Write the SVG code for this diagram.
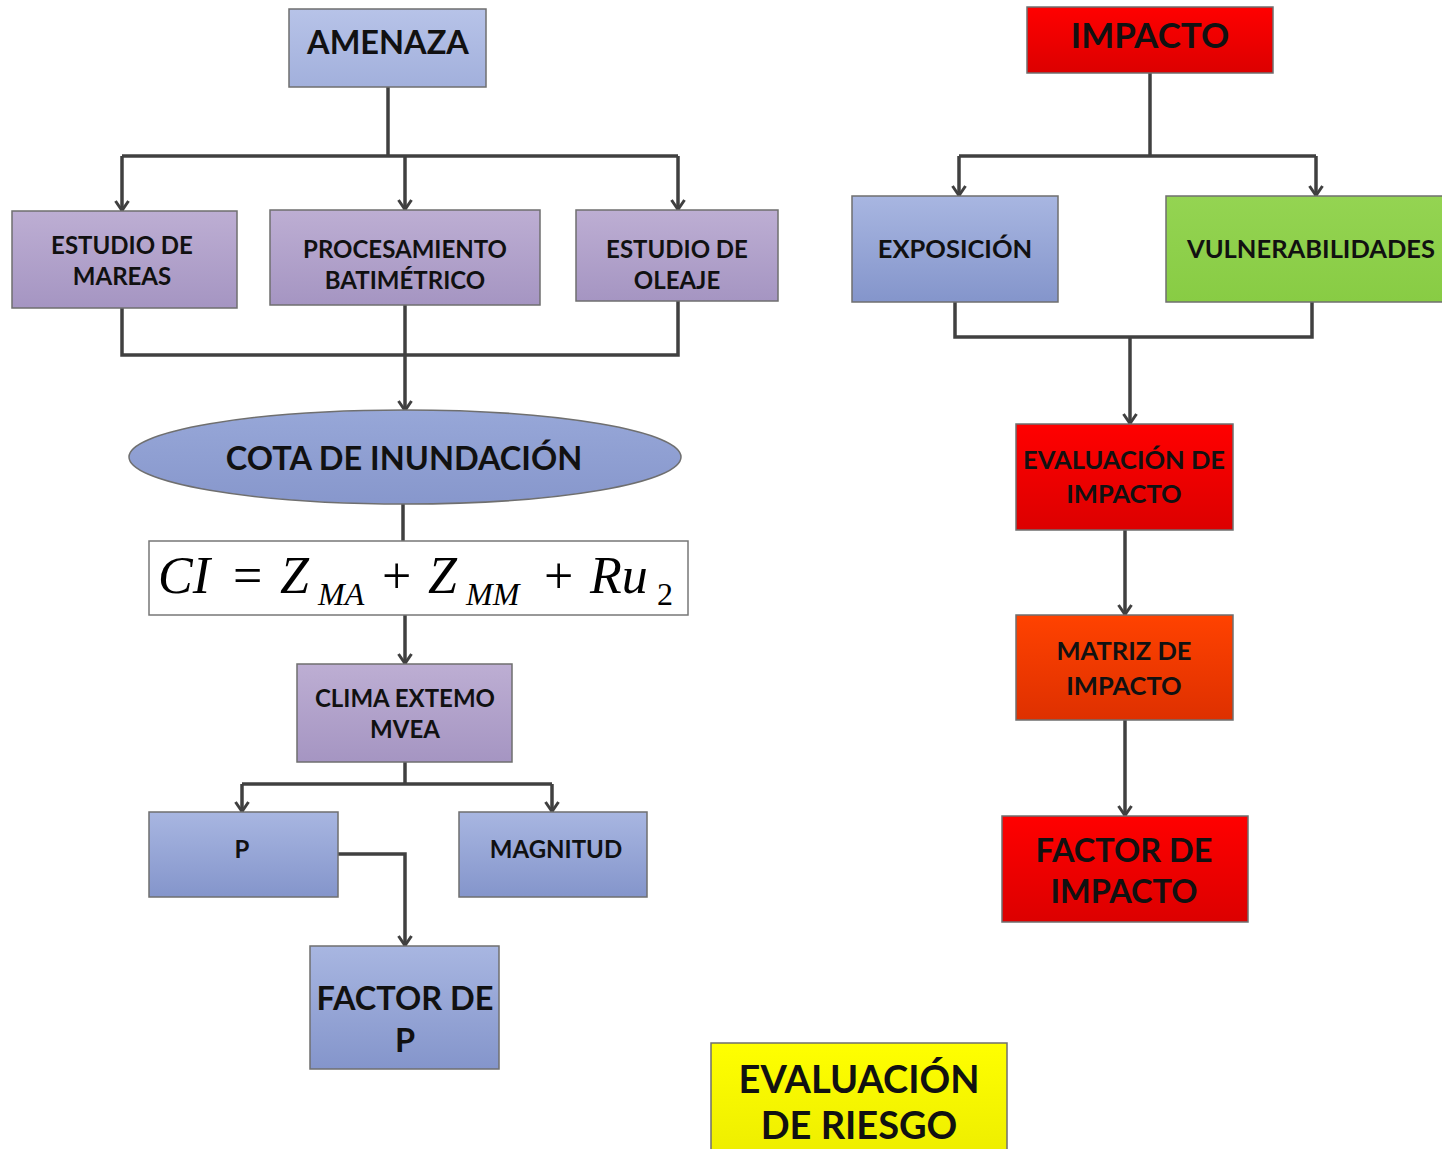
<svg xmlns="http://www.w3.org/2000/svg" width="1442" height="1149" viewBox="0 0 1442 1149">
<defs>
<linearGradient id="gBlue" x1="0" y1="0" x2="0" y2="1"><stop offset="0" stop-color="#a8b6e1"/><stop offset="1" stop-color="#8495cb"/></linearGradient>
<linearGradient id="gLight" x1="0" y1="0" x2="0" y2="1"><stop offset="0" stop-color="#b7c3e8"/><stop offset="1" stop-color="#a2b0dc"/></linearGradient>
<linearGradient id="gPurple" x1="0" y1="0" x2="0" y2="1"><stop offset="0" stop-color="#bdaed3"/><stop offset="1" stop-color="#a595c2"/></linearGradient>
<linearGradient id="gRed" x1="0" y1="0" x2="0" y2="1"><stop offset="0" stop-color="#ff0000"/><stop offset="1" stop-color="#dc0000"/></linearGradient>
<linearGradient id="gOrange" x1="0" y1="0" x2="0" y2="1"><stop offset="0" stop-color="#ff4200"/><stop offset="1" stop-color="#de3000"/></linearGradient>
<linearGradient id="gGreen" x1="0" y1="0" x2="0" y2="1"><stop offset="0" stop-color="#94d452"/><stop offset="1" stop-color="#88cc44"/></linearGradient>
<linearGradient id="gYellow" x1="0" y1="0" x2="0" y2="1"><stop offset="0" stop-color="#ffff00"/><stop offset="1" stop-color="#eeee00"/></linearGradient>
<linearGradient id="gEll" x1="0" y1="0" x2="0" y2="1"><stop offset="0" stop-color="#97a7d8"/><stop offset="1" stop-color="#8797cc"/></linearGradient>
<marker id="arr" viewBox="0 0 14 16" refX="12" refY="8" markerWidth="14" markerHeight="16" markerUnits="userSpaceOnUse" orient="auto">
<path d="M2,1.5 L11.5,8 L2,14.5" fill="none" stroke="#404040" stroke-width="3"/>
</marker>
</defs>
<style>
.box{stroke:#6f6f6f;stroke-width:1.5}
.t{font-family:Lato,"Open Sans","Liberation Sans",sans-serif;font-weight:bold;fill:#111;text-anchor:middle;dominant-baseline:central}
.s20{font-size:24px}
.s22{font-size:25.5px}
.s28{font-size:32.5px}
.s30{font-size:32.5px}
.s35{font-size:35px}
.s38{font-size:38px}
.c{fill:none;stroke:#404040;stroke-width:3.5}
.m{font-family:"Liberation Serif","Times New Roman",serif;font-style:italic;fill:#000}
.mn{font-family:"Liberation Serif","Times New Roman",serif;fill:#000}
</style>
<rect width="1442" height="1149" fill="#fff"/>

<g id="connectors">
<path class="c" d="M388,87 V156"/>
<path class="c" d="M122,156 H678"/>
<path class="c" d="M122,156 V211" marker-end="url(#arr)"/>
<path class="c" d="M405,156 V210" marker-end="url(#arr)"/>
<path class="c" d="M678,156 V210" marker-end="url(#arr)"/>
<path class="c" d="M122,308 V355 H678 V301"/>
<path class="c" d="M405,305 V411" marker-end="url(#arr)"/>
<path class="c" d="M403,504 V541"/>
<path class="c" d="M405,615 V664" marker-end="url(#arr)"/>
<path class="c" d="M405,762 V784"/>
<path class="c" d="M242,784 H552"/>
<path class="c" d="M242,784 V812" marker-end="url(#arr)"/>
<path class="c" d="M552,784 V812" marker-end="url(#arr)"/>
<path class="c" d="M338,854 H405 V946" marker-end="url(#arr)"/>
<path class="c" d="M1150,73 V156"/>
<path class="c" d="M959,156 H1316"/>
<path class="c" d="M959,156 V196" marker-end="url(#arr)"/>
<path class="c" d="M1316,156 V196" marker-end="url(#arr)"/>
<path class="c" d="M955,302 V337 H1312 V302"/>
<path class="c" d="M1130,337 V424" marker-end="url(#arr)"/>
<path class="c" d="M1125,530 V615" marker-end="url(#arr)"/>
<path class="c" d="M1125,720 V816" marker-end="url(#arr)"/>
</g>

<g id="amenaza"><rect class="box" x="289" y="9" width="197" height="78" fill="url(#gLight)"/><text class="t s28" x="388" y="41">AMENAZA</text></g>
<g id="mareas"><rect class="box" x="12" y="211" width="225" height="97" fill="url(#gPurple)"/><text class="t s20" x="122" y="244">ESTUDIO DE</text><text class="t s20" x="122" y="275">MAREAS</text></g>
<g id="batimetrico"><rect class="box" x="270" y="210" width="270" height="95" fill="url(#gPurple)"/><text class="t s20" x="405" y="248">PROCESAMIENTO</text><text class="t s20" x="405" y="279">BATIMÉTRICO</text></g>
<g id="oleaje"><rect class="box" x="576" y="210" width="202" height="91" fill="url(#gPurple)"/><text class="t s20" x="677" y="248">ESTUDIO DE</text><text class="t s20" x="677" y="279">OLEAJE</text></g>
<g id="cota"><ellipse class="box" cx="405" cy="457" rx="276" ry="47" fill="url(#gEll)"/><text class="t s28" x="404" y="457">COTA DE INUNDACIÓN</text></g>
<g id="formula"><rect x="149" y="541" width="539" height="74" fill="#fff" stroke="#777" stroke-width="1.5"/>
<text class="m" font-size="52" x="158" y="593">CI</text>
<text class="mn" font-size="52" x="233" y="593">=</text>
<text class="m" font-size="52" x="280" y="593">Z</text>
<text class="m" font-size="32" x="318" y="605">MA</text>
<text class="mn" font-size="52" x="382" y="593">+</text>
<text class="m" font-size="52" x="428" y="593">Z</text>
<text class="m" font-size="32" x="466" y="605">MM</text>
<text class="mn" font-size="52" x="544" y="593">+</text>
<text class="m" font-size="52" x="590" y="593">Ru</text>
<text class="mn" font-size="32" x="657" y="605">2</text>
</g>
<g id="clima"><rect class="box" x="297" y="664" width="215" height="98" fill="url(#gPurple)"/><text class="t s20" x="405" y="697">CLIMA EXTEMO</text><text class="t s20" x="405" y="728">MVEA</text></g>
<g id="p"><rect class="box" x="149" y="812" width="189" height="85" fill="url(#gBlue)"/><text class="t s20" x="242" y="848">P</text></g>
<g id="magnitud"><rect class="box" x="459" y="812" width="188" height="85" fill="url(#gBlue)"/><text class="t s20" x="556" y="848">MAGNITUD</text></g>
<g id="factor-p"><rect class="box" x="310" y="946" width="189" height="123" fill="url(#gBlue)"/><text class="t s30" x="405" y="997">FACTOR DE</text><text class="t s30" x="405" y="1039">P</text></g>

<g id="impacto"><rect class="box" x="1027" y="7" width="246" height="66" fill="url(#gRed)"/><text class="t s35" x="1150" y="34">IMPACTO</text></g>
<g id="exposicion"><rect class="box" x="852" y="196" width="206" height="106" fill="url(#gBlue)"/><text class="t s22" x="955" y="248">EXPOSICIÓN</text></g>
<g id="vulnerabilidades"><rect class="box" x="1166" y="196" width="280" height="106" fill="url(#gGreen)"/><text class="t s22" x="1311" y="248">VULNERABILIDADES</text></g>
<g id="evaluacion-impacto"><rect class="box" x="1016" y="424" width="217" height="106" fill="url(#gRed)"/><text class="t s22" x="1124" y="459">EVALUACIÓN DE</text><text class="t s22" x="1124" y="493">IMPACTO</text></g>
<g id="matriz"><rect class="box" x="1016" y="615" width="217" height="105" fill="url(#gOrange)"/><text class="t s22" x="1124" y="650">MATRIZ DE</text><text class="t s22" x="1124" y="685">IMPACTO</text></g>
<g id="factor-impacto"><rect class="box" x="1002" y="816" width="246" height="106" fill="url(#gRed)"/><text class="t s30" x="1124" y="849">FACTOR DE</text><text class="t s30" x="1124" y="890">IMPACTO</text></g>
<g id="evaluacion-riesgo"><rect class="box" x="711" y="1043" width="296" height="110" fill="url(#gYellow)"/><text class="t s38" x="859" y="1078">EVALUACIÓN</text><text class="t s38" x="859" y="1124">DE RIESGO</text></g>
</svg>
